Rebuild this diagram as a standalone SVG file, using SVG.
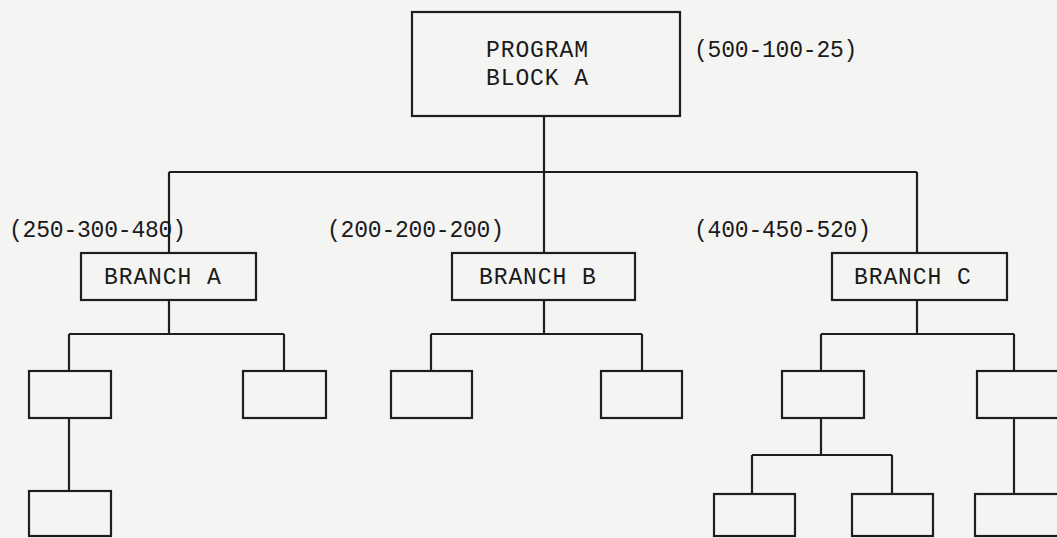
<svg xmlns="http://www.w3.org/2000/svg" width="1057" height="538" viewBox="0 0 1057 538">
<style>
.box{fill:none;stroke:#1e1e1e;stroke-width:2.2}
.ln{fill:none;stroke:#1e1e1e;stroke-width:2.2}
.bt{font-family:"Liberation Mono","Courier New",monospace;font-size:23px;letter-spacing:0.9px;fill:#1a1a1a}
.lb{font-family:"Liberation Mono","Courier New",monospace;font-size:23px;letter-spacing:-0.2px;fill:#1a1a1a}
</style>
<rect width="1057" height="538" fill="#f4f4f2"/>
<g id="connectors">
<path class="ln" d="M544 116V253M169 172H917M169 172V253M917 172V253"/>
<path class="ln" d="M169 300V334M69 334H284M69 334V371M284 334V371M69 418V491"/>
<path class="ln" d="M544 300V334M431 334H642M431 334V371M642 334V371"/>
<path class="ln" d="M917 300V334M821 334H1014M821 334V371M1014 334V371M821 418V455M752 455H892M752 455V494M892 455V494M1014 418V494"/>
</g>
<g id="program-block-a"><rect class="box" x="412" y="12" width="268" height="104"/><text class="bt" x="486" y="57">PROGRAM</text><text class="bt" x="486" y="85">BLOCK A</text></g>
<g id="label-top"><text class="lb" x="694" y="57">(500-100-25)</text></g>
<g id="label-a"><text class="lb" x="9" y="237">(250-300-480)</text></g>
<g id="label-b"><text class="lb" x="327" y="237">(200-200-200)</text></g>
<g id="label-c"><text class="lb" x="694" y="237">(400-450-520)</text></g>
<g id="branch-a"><rect class="box" x="81" y="253" width="175" height="47"/><text class="bt" x="104" y="284">BRANCH A</text></g>
<g id="branch-b"><rect class="box" x="452" y="253" width="183" height="47"/><text class="bt" x="479" y="284">BRANCH B</text></g>
<g id="branch-c"><rect class="box" x="832" y="253" width="175" height="47"/><text class="bt" x="854" y="284">BRANCH C</text></g>
<g id="a1"><rect class="box" x="29" y="371" width="82" height="47"/></g>
<g id="a2"><rect class="box" x="243" y="371" width="83" height="47"/></g>
<g id="a11"><rect class="box" x="29" y="491" width="82" height="45"/></g>
<g id="b1"><rect class="box" x="391" y="371" width="81" height="47"/></g>
<g id="b2"><rect class="box" x="601" y="371" width="81" height="47"/></g>
<g id="c1"><rect class="box" x="782" y="371" width="82" height="47"/></g>
<g id="c2"><rect class="box" x="977" y="371" width="90" height="47"/></g>
<g id="c11"><rect class="box" x="714" y="494" width="81" height="42"/></g>
<g id="c12"><rect class="box" x="852" y="494" width="81" height="42"/></g>
<g id="c21"><rect class="box" x="975" y="494" width="92" height="42"/></g>
</svg>
